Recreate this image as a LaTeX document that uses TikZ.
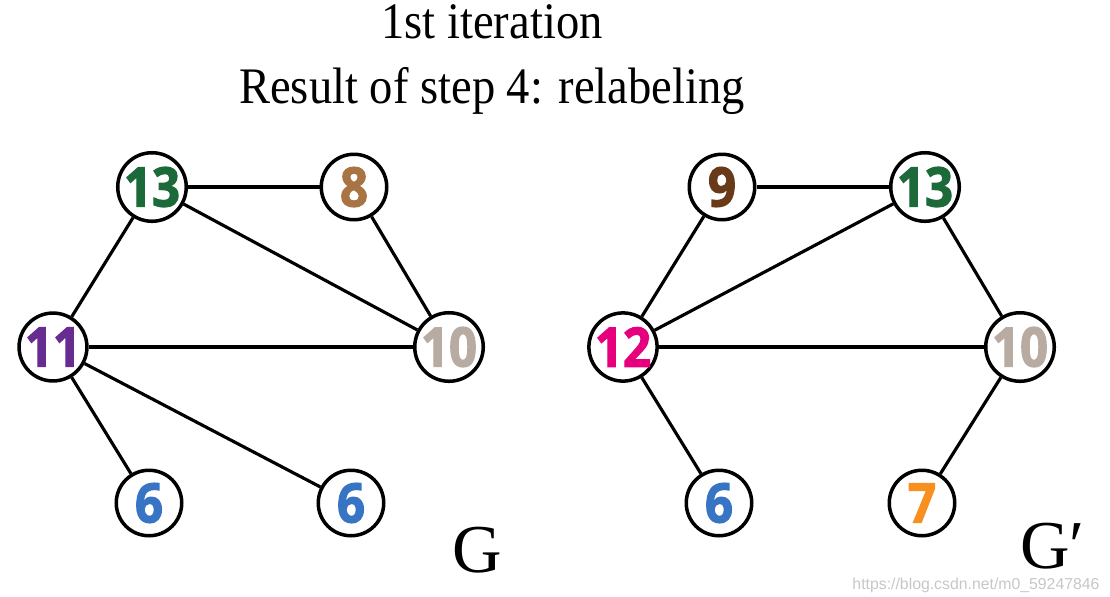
\documentclass[tikz,border=0pt]{standalone}
\usepackage{fontspec}
\setmainfont{Liberation Serif}
\newfontfamily\numfont[BoldFeatures={FakeBold=2.2,FakeStretch=0.9}]{Open Sans}
\newfontfamily\markfont{Liberation Sans}
\definecolor{numgreen}{RGB}{28,106,58}
\definecolor{numtan}{RGB}{168,116,68}
\definecolor{numpurple}{RGB}{104,44,145}
\definecolor{numgray}{RGB}{183,171,162}
\definecolor{numblue}{RGB}{56,116,196}
\definecolor{numbrown}{RGB}{104,58,26}
\definecolor{nummagenta}{RGB}{230,0,126}
\definecolor{numorange}{RGB}{247,144,30}
\tikzset{
  vtx/.style={circle,draw,line width=2pt,minimum size=1.31cm,inner sep=0pt,
    fill=white,font=\numfont\bfseries\fontsize{31}{31}\selectfont},
  gname/.style={anchor=base west,inner sep=0pt,font=\fontsize{39}{39}\selectfont},
  ttl/.style={anchor=base,inner sep=0pt,yscale=1.1,transform shape,font=\fontsize{26.5}{26.5}\selectfont}
}
\begin{document}
\begin{tikzpicture}[x=0.02cm,y=-0.02cm]
      \useasboundingbox (0,0) rectangle (1110,596);
      \node[ttl] (t1) at (492,38) {1st iteration};
      \node[ttl] (t2) at (492,103) {Result of step 4: relabeling};
      % graph G
      \draw
        (152,187) node[vtx,text=numgreen] (a13){13}
        (354,187) node[vtx,text=numtan] (a8){8}
        (53,347) node[vtx,text=numpurple] (a11){11}
        (449,347) node[vtx,text=numgray] (a10){10}
        (149,503) node[vtx,text=numblue] (a6){6}
        (351,503) node[vtx,text=numblue] (b6){6};
      \node[gname] (g) at (452,572) {G};
      % graph G'
      \draw
        (722,187) node[vtx,text=numbrown] (c9){9}
        (925,187) node[vtx,text=numgreen] (c13){13}
        (623,347) node[vtx,text=nummagenta] (c12){12}
        (1020,347) node[vtx,text=numgray] (c10){10}
        (719,503) node[vtx,text=numblue] (c6){6}
        (922,503) node[vtx,text=numorange] (c7){7};
      \node[gname] (gp) at (1020,568) {G′};
      \begin{scope}[-,line width=1.8pt]
        \draw (a13) to (a8);
        \draw (a13) to (a11);
        \draw (a13) to (a10);
        \draw (a8) to (a10);
        \draw (a11) to (a10);
        \draw (a11) to (a6);
        \draw (a11) to (b6);
        \draw (c9) to (c13);
        \draw (c9) to (c12);
        \draw (c13) to (c12);
        \draw (c13) to (c10);
        \draw (c12) to (c10);
        \draw (c12) to (c6);
        \draw (c10) to (c7);
      \end{scope}
      \node[inner sep=0pt,text=black!22,font=\markfont\fontsize{9}{9}\selectfont] (wm) at (976,585) {https://blog.csdn.net/m0\_59247846};
    \end{tikzpicture}
\end{document}
